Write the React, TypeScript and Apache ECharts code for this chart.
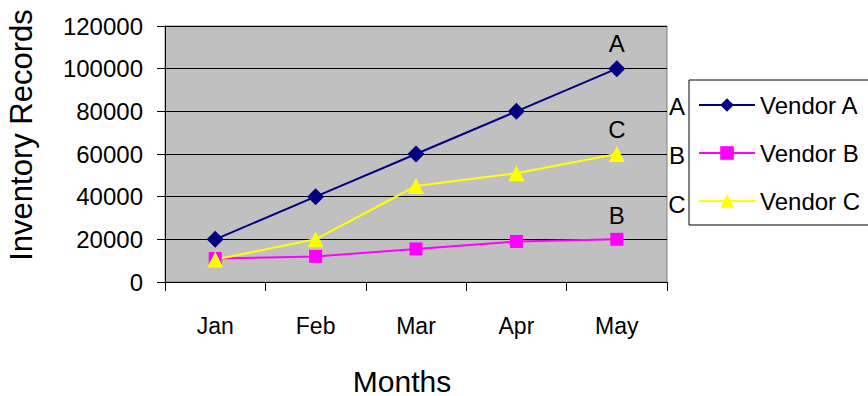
import React, { useEffect, useRef } from "react";
import * as echarts from "echarts";

const months = ["Jan", "Feb", "Mar", "Apr", "May"];
const vendorA = [20000, 40000, 60000, 80000, 100000];
const vendorB = [11000, 12000, 15500, 19000, 20000];
const vendorC = [10500, 20000, 45000, 51000, 60000];
const seriesNames = ["Vendor A", "Vendor B", "Vendor C"];
const endLabels = ["A", "B", "C"];

const FONT = "Liberation Sans, Arial, sans-serif";

function withEndLabel(values: number[], label: string) {
  return values.map((v, i) =>
    i === values.length - 1
      ? {
          value: v,
          label: {
            show: true,
            position: "top",
            distance: 5,
            formatter: label,
            fontSize: 24,
            fontFamily: FONT,
            color: "#000",
          },
        }
      : v
  );
}

export default function App() {
  const ref = useRef<HTMLDivElement>(null);
  useEffect(() => {
    if (!ref.current) return;
    const chart = echarts.init(ref.current, undefined, { renderer: "svg" });
    chart.setOption({
      animation: false,
      backgroundColor: "#ffffff",
      textStyle: { fontFamily: FONT },
      grid: {
        left: 165,
        top: 26,
        width: 502,
        height: 256,
        containLabel: false,
        outerBoundsMode: "none",
        show: true,
        backgroundColor: "#c0c0c0",
        borderColor: "#808080",
        borderWidth: 1,
      },
      legend: {
        orient: "vertical",
        left: 698,
        top: 93,
        padding: 0,
        itemWidth: 56,
        itemHeight: 17,
        itemGap: 24,
        textStyle: { fontSize: 24, color: "#000", fontFamily: FONT },
        data: seriesNames,
      },
      graphic: [
        {
          type: "rect",
          shape: { x: 689, y: 80, width: 200, height: 145 },
          style: { fill: "#ffffff", stroke: "#000000", lineWidth: 1 },
          z: 0,
        },
        ...endLabels.map((t, i) => ({
          type: "text",
          x: 677,
          y: 106 + i * 49,
          style: {
            text: t,
            fontSize: 24,
            fontFamily: FONT,
            fill: "#000",
            align: "center",
            verticalAlign: "middle",
          },
        })),
      ],
      xAxis: {
        type: "category",
        data: months,
        boundaryGap: true,
        axisLine: { lineStyle: { color: "#000", width: 1 } },
        axisTick: { show: true, length: 9, lineStyle: { color: "#000" } },
        axisLabel: { fontSize: 23, color: "#000", margin: 32, fontFamily: FONT },
        name: "Months",
        nameLocation: "middle",
        nameGap: 84,
        nameTextStyle: {
          fontSize: 30,
          color: "#000",
          fontFamily: FONT,
          padding: [0, 28, 0, 0],
        },
        splitLine: { show: false },
      },
      yAxis: {
        type: "value",
        min: 0,
        max: 120000,
        interval: 20000,
        axisLine: { show: true, lineStyle: { color: "#000", width: 1 } },
        axisTick: { show: true, length: 8, lineStyle: { color: "#000" } },
        axisLabel: {
          fontSize: 24,
          color: "#000",
          margin: 22,
          fontFamily: FONT,
          formatter: (v: number) => String(v),
        },
        splitLine: { show: true, lineStyle: { color: "#000", width: 1.2 } },
        name: "Inventory Records",
        nameLocation: "middle",
        nameGap: 128,
        nameRotate: 90,
        nameTextStyle: {
          fontSize: 31,
          color: "#000",
          fontFamily: FONT,
          padding: [0, 0, 0, 38],
        },
      },
      series: [
        {
          name: seriesNames[0],
          type: "line",
          data: withEndLabel(vendorA, endLabels[0]),
          symbol: "diamond",
          symbolSize: 17,
          color: "#000080",
          lineStyle: { color: "#000080", width: 2 },
          itemStyle: { color: "#000080" },
        },
        {
          name: seriesNames[1],
          type: "line",
          data: withEndLabel(vendorB, endLabels[1]),
          symbol: "rect",
          symbolSize: 13,
          color: "#ff00ff",
          lineStyle: { color: "#ff00ff", width: 2 },
          itemStyle: { color: "#ff00ff" },
        },
        {
          name: seriesNames[2],
          type: "line",
          data: withEndLabel(vendorC, endLabels[2]),
          symbol: "triangle",
          symbolSize: 16,
          color: "#ffff00",
          lineStyle: { color: "#ffff00", width: 2 },
          itemStyle: { color: "#ffff00" },
        },
      ],
    });
    return () => chart.dispose();
  }, []);
  return (
    <div
      ref={ref}
      style={{ position: "fixed", left: 0, top: 0, width: 868, height: 396 }}
    />
  );
}
